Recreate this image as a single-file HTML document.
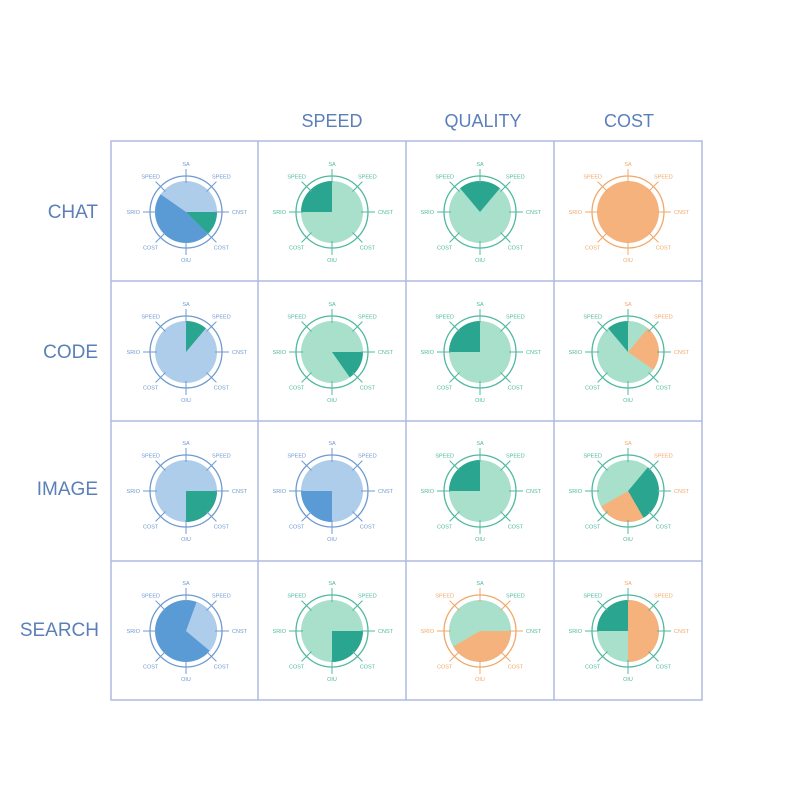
<!DOCTYPE html>
<html><head><meta charset="utf-8"><style>
body{margin:0;background:#fff;}
svg text{font-family:"Liberation Sans",sans-serif;}
</style></head><body>
<svg id="s" width="800" height="800" xmlns="http://www.w3.org/2000/svg">
<rect width="800" height="800" fill="#fff"/>
<g font-size="18" fill="#5b7fb8" text-anchor="middle">
<text x="332" y="127">SPEED</text><text x="483" y="127">QUALITY</text><text x="629" y="127">COST</text>
</g>
<g font-size="19" fill="#5b7fb8" text-anchor="end">
<text x="98" y="218">CHAT</text><text x="98" y="358">CODE</text><text x="98" y="495">IMAGE</text><text x="99" y="636">SEARCH</text>
</g>
<g stroke="#aebbe0" stroke-width="1.5" fill="none">
<rect x="111" y="141" width="591" height="559"/>
<line x1="258" y1="141" x2="258" y2="700"/><line x1="406" y1="141" x2="406" y2="700"/><line x1="554" y1="141" x2="554" y2="700"/>
<line x1="111" y1="281" x2="702" y2="281"/><line x1="111" y1="421" x2="702" y2="421"/><line x1="111" y1="561" x2="702" y2="561"/>
</g>
</svg>
<script>
var LB="#aecdea",MB="#5b9bd5",T="#2aa58f",M="#a8e0cc",O="#f6b27d";
var cells=[
 [[[0,360,LB],[135,305,MB],[90,135,T]],"b"],
 [[[0,360,M],[270,360,T]],"t"],
 [[[0,360,M],[320,400,T]],"t"],
 [[[0,360,O]],"o"],
 [[[0,360,LB],[0,40,T]],"b"],
 [[[0,360,M],[90,145,T]],"t"],
 [[[0,360,M],[270,360,T]],"t"],
 [[[0,360,M],[320,360,T],[40,125,O]],"to"],
 [[[0,360,LB],[90,180,T]],"b"],
 [[[0,360,LB],[180,270,MB]],"b"],
 [[[0,360,M],[270,360,T]],"t"],
 [[[0,360,M],[40,150,T],[150,240,O]],"to"],
 [[[0,360,MB],[20,130,LB]],"b"],
 [[[0,360,M],[90,180,T]],"t"],
 [[[0,360,M],[90,240,O]],"ot"],
 [[[0,360,M],[270,360,T],[0,180,O]],"to"]
];
var xs=[186,332,480,628],ys=[212,352,491,631];
var labs=["SA","SPEED","CNST","COST","OIU","COST","SRIO","SPEED"];
var s=document.getElementById("s"),h="";
function pt(cx,cy,r,a){a=(a-90)*Math.PI/180;return [cx+r*Math.cos(a),cy+r*Math.sin(a)];}
cells.forEach(function(c,i){
 var cx=xs[i%4],cy=ys[Math.floor(i/4)],r=31;
 c[0].forEach(function(w){
  if(w[1]-w[0]>=360){h+='<circle cx="'+cx+'" cy="'+cy+'" r="'+r+'" fill="'+w[2]+'"/>';return;}
  var p1=pt(cx,cy,r,w[0]),p2=pt(cx,cy,r,w[1]),lg=(w[1]-w[0])>180?1:0;
  h+='<path d="M'+cx+','+cy+'L'+p1[0]+','+p1[1]+'A'+r+','+r+' 0 '+lg+' 1 '+p2[0]+','+p2[1]+'Z" fill="'+w[2]+'"/>';
 });
 var k=c[1],rc=k[0]=="b"?"#6f9ad0":(k[0]=="o"?"#f0a868":"#4fb89e");
 h+='<circle cx="'+cx+'" cy="'+cy+'" r="36" fill="none" stroke="'+rc+'" stroke-width="1.3"/>';
 for(var j=0;j<8;j++){
  var a=pt(cx,cy,29,j*45),b=pt(cx,cy,43,j*45),l=pt(cx,cy,j%2?50:48,j*45);
  h+='<line x1="'+a[0]+'" y1="'+a[1]+'" x2="'+b[0]+'" y2="'+b[1]+'" stroke="'+rc+'" stroke-width="1"/>';
  var lc=rc; if(k.length>1&&(j==1||j==2||j==0))lc=k[1]=="o"?"#f0a868":"#4fb89e";
  if(k=="to"&&(j==1||j==2))lc="#f0a868"; if(k=="to"&&j==0)lc="#f0a868";
  var anc=(j==0||j==4)?"middle":(j<4?"start":"end");
  if(j==0||j==4)anc="middle";
  var dx=(j==2)?-2:(j==6?2:0);
  h+='<text x="'+(l[0]+dx)+'" y="'+(l[1]+2)+'" font-size="5.5" fill="'+lc+'" text-anchor="'+(j==1||j==3?"middle":(j==5||j==7?"middle":anc))+'">'+labs[j]+'</text>';
 }
});
s.insertAdjacentHTML("beforeend",h);
</script>
</body></html>
